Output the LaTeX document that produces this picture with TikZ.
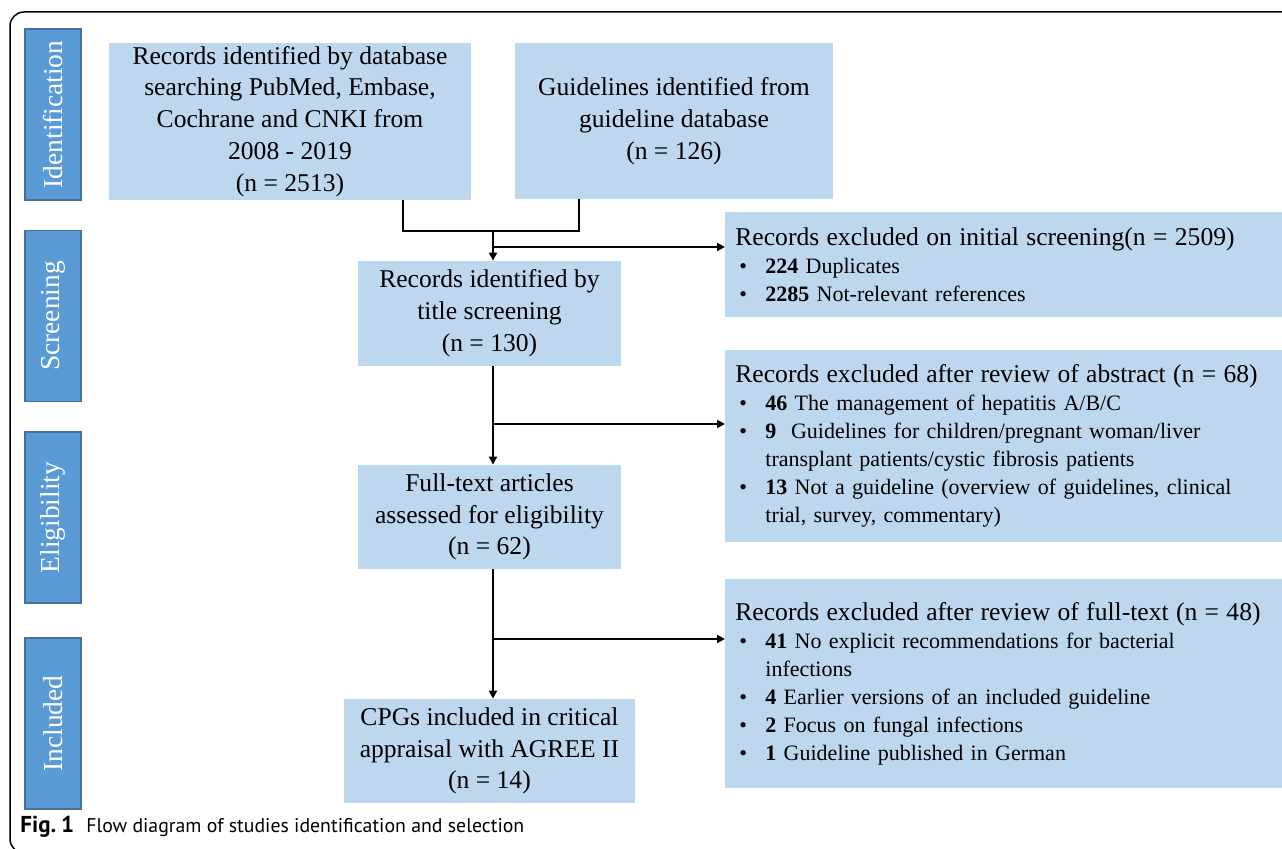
\documentclass[tikz,border=0pt]{standalone}
\usepackage{fontspec}
\setmainfont{Liberation Serif}
\newfontfamily\capfont{PT Sans}
\usepackage{tikz}
\usetikzlibrary{arrows.meta, positioning, calc}
\definecolor{stage-blue}{HTML}{5B9BD5}
\definecolor{stage-edge}{HTML}{41719C}
\definecolor{box-blue}{HTML}{BDD7EE}
\newcommand{\bitem}[1]{\makebox[15pt][l]{\hspace{2pt}\textbullet}\textbf{#1}}
\newcommand{\contline}{\hspace*{15pt}}
\newcommand{\extitle}[1]{{\fontsize{12.8pt}{14pt}\selectfont #1}}

\tikzset{
    stagebox/.style={draw=stage-edge, line width=0.6pt, fill=stage-blue, text=white, rotate=90,
        minimum width=85.5pt, minimum height=28pt, inner sep=0pt, font=\fontsize{13.7pt}{16pt}\selectfont},
    flowbox/.style={fill=box-blue, align=center, inner sep=0pt, font=\fontsize{12.8pt}{15.9pt}\selectfont},
    exclbox/.style={fill=box-blue, anchor=west, align=left, text width=268.5pt, inner xsep=5pt,
        inner ysep=0pt, font=\fontsize{11pt}{14pt}\selectfont},
    arr/.style={line width=1pt, -{Triangle[length=4pt,width=4pt]}},
    link/.style={line width=1pt}
}

\begin{document}
\begin{tikzpicture}[x=0.5pt, y=-0.5pt]
    \useasboundingbox (0,0) rectangle (1282,849);

    % Frame
    \draw[line width=0.75pt, rounded corners=7pt] (1300,12) -- (10,12) -- (10,853) -- (60,853);

    % Stage labels
    \foreach \y/\name/\lbl in {114.5/ident/Identification, 316/screen/Screening, 517.5/elig/Eligibility, 723.5/incl/Included} {
        \node[stagebox] (\name) at (53,\y) {\lbl};
    }

    % Flow boxes
    \node[flowbox, minimum width=181pt, minimum height=78.5pt] (rec) at (290,121.5)
        {Records identified by database\\searching PubMed, Embase,\\Cochrane and CNKI from\\2008 - 2019\\(n = 2513)};
    \node[flowbox, minimum width=159pt, minimum height=78pt] (gdl) at (674,121)
        {Guidelines identified from\\guideline database\\(n = 126)};
    \node[flowbox, minimum width=131.5pt, minimum height=52.5pt] (title) at (489.5,313.5)
        {Records identified by\\title screening\\(n = 130)};
    \node[flowbox, minimum width=131.5pt, minimum height=52pt] (full) at (489.5,517)
        {Full-text articles\\assessed for eligibility\\(n = 62)};
    \node[flowbox, minimum width=145.5pt, minimum height=52pt] (cpg) at (489.5,751)
        {CPGs included in critical\\appraisal with AGREE II\\(n = 14)};

    % Exclusion boxes
    \node[exclbox, minimum height=52.5pt] (ex1) at (725,264.5)
        {\extitle{Records excluded on initial screening(n = 2509)}\\
         \bitem{224} Duplicates\\
         \bitem{2285} Not-relevant references};
    \node[exclbox, minimum height=96pt] (ex2) at (725,446)
        {\extitle{Records excluded after review of abstract (n = 68)}\\
         \bitem{46} The management of hepatitis A/B/C\\
         \bitem{9}\ \ Guidelines for children/pregnant woman/liver\\
         \contline transplant patients/cystic fibrosis patients\\
         \bitem{13} Not a guideline (overview of guidelines, clinical\\
         \contline trial, survey, commentary)};
    \node[exclbox, minimum height=104.5pt] (ex3) at (725,683.5)
        {\extitle{Records excluded after review of full-text (n = 48)}\\
         \bitem{41} No explicit recommendations for bacterial\\
         \contline infections\\
         \bitem{4}\ Earlier versions of an included guideline\\
         \bitem{2}\ Focus on fungal infections\\
         \bitem{1}\ Guideline published in German};

    % Connectors
    \coordinate (ja) at (403,231);
    \coordinate (jb) at (579,231);
    \coordinate (jm) at (493,231);
    \draw[link] (rec.south -| ja) -- (ja) -- (jb) -- (gdl.south -| jb);
    \draw[arr] (jm) -- (title.north -| jm);
    \coordinate (s1) at (493,247);
    \draw[arr] (s1) -- (ex1.west |- s1);
    \draw[arr] (title.south -| jm) -- (full.north -| jm);
    \coordinate (s2) at (493,424);
    \draw[arr] (s2) -- (ex2.west |- s2);
    \draw[arr] (full.south -| jm) -- (cpg.north -| jm);
    \coordinate (s3) at (493,639);
    \draw[arr] (s3) -- (ex3.west |- s3);

    % Caption
    \node[anchor=west, inner sep=0pt, font=\capfont\fontsize{9.9pt}{11pt}\selectfont] (cap) at (20,827)
        {{\fontsize{11.5pt}{11pt}\selectfont\bfseries Fig.\hspace{2.5pt}1}\hspace{6pt}Flow diagram of studies identification and selection};
\end{tikzpicture}
\end{document}
